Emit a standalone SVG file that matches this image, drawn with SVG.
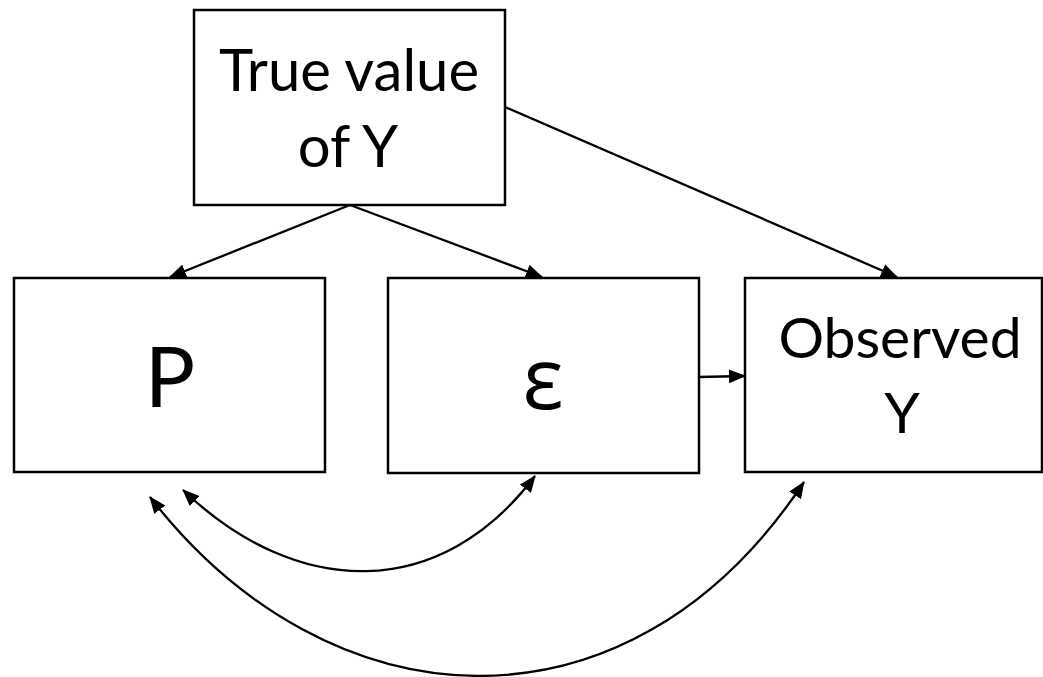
<svg xmlns="http://www.w3.org/2000/svg" width="1043" height="677" viewBox="0 0 1043 677">
<style>
.box{fill:#fff;stroke:#000;stroke-width:2.5}
.lbl{font-family:Lato,"Open Sans","Liberation Sans",sans-serif;fill:#000;text-anchor:middle}
.big{font-family:Lato,"Open Sans","Liberation Sans",sans-serif;fill:#000;text-anchor:middle;font-size:84px}
.eps{font-family:"Open Sans","Noto Sans","DejaVu Sans",sans-serif;fill:#000;text-anchor:middle;font-size:86px}
.c{fill:none;stroke:#000;stroke-width:2.3}
</style>
<defs>
<marker id="ah" markerUnits="userSpaceOnUse" markerWidth="17" markerHeight="14" viewBox="0 0 17 14" refX="16" refY="7" orient="auto-start-reverse">
<path d="M0,0 L17,7 L0,14 Z" fill="#000"/>
</marker>
</defs>
<rect width="1043" height="677" fill="#fff"/>
<g id="true-value">
<rect class="box" x="194" y="10" width="311" height="195"/>
<text class="lbl" x="349" y="91" font-size="58">True value</text>
<text class="lbl" x="348" y="167" font-size="58">of Y</text>
</g>
<g id="p">
<rect class="box" x="14" y="278" width="311" height="194"/>
<text class="big" x="170" y="407">P</text>
</g>
<g id="epsilon">
<rect class="box" x="388" y="278" width="311" height="195"/>
<text class="eps" x="543" y="409">ε</text>
</g>
<g id="observed">
<rect class="box" x="745" y="278" width="297" height="194"/>
<text class="lbl" x="900" y="358" font-size="57">Observed</text>
<text class="lbl" x="902" y="433" font-size="57">Y</text>
</g>
<g id="connectors">
<line class="c" x1="350" y1="205" x2="170" y2="277" marker-end="url(#ah)"/>
<line class="c" x1="350" y1="205" x2="542" y2="277" marker-end="url(#ah)"/>
<line class="c" x1="505" y1="107" x2="897" y2="277" marker-end="url(#ah)"/>
<line class="c" x1="699" y1="377" x2="745" y2="376" marker-end="url(#ah)"/>
<path class="c" d="M183,490 C298,600 441,601 535,476" marker-start="url(#ah)" marker-end="url(#ah)"/>
<path class="c" d="M150,497 C327,726 626,750 804,482" marker-start="url(#ah)" marker-end="url(#ah)"/>
</g>
</svg>
